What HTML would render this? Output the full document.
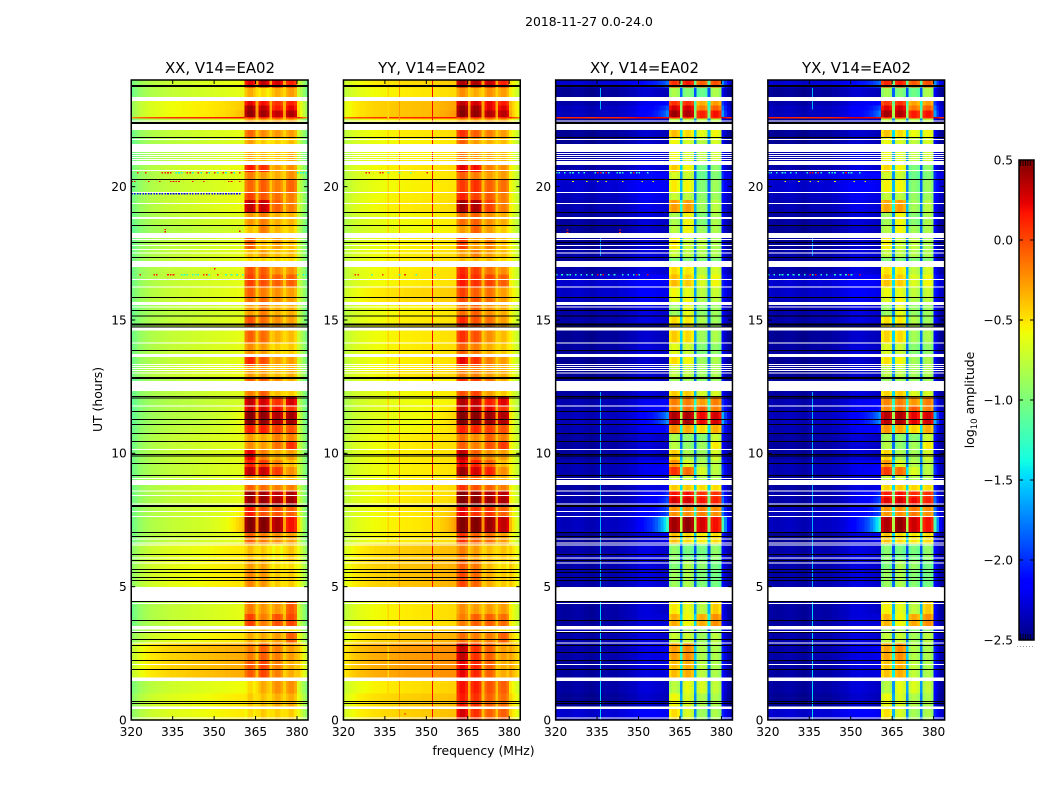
<!DOCTYPE html>
<html>
<head>
<meta charset="utf-8">
<title>2018-11-27 0.0-24.0</title>
<style>
html,body{margin:0;padding:0;background:#fff;}
svg{display:block;font-family:"DejaVu Sans","Liberation Sans",sans-serif;}
</style>
</head>
<body>
<svg id="chart" xmlns="http://www.w3.org/2000/svg" width="1050" height="800" viewBox="0 0 1050 800">
  <rect x="0" y="0" width="1050" height="800" fill="#fff"/>
  <text x="589" y="26" font-size="12.4" text-anchor="middle" fill="#000">2018-11-27 0.0-24.0</text>
  <text x="483.5" y="755" font-size="12.4" text-anchor="middle" fill="#000">frequency (MHz)</text>
  <text transform="translate(102,399.5) rotate(-90)" font-size="12.4" text-anchor="middle" fill="#000">UT (hours)</text>
  <text transform="translate(974,400) rotate(-90)" font-size="12.4" text-anchor="middle" fill="#000">log<tspan font-size="8.6" dy="3">10</tspan><tspan dy="-3"> amplitude</tspan></text>
  <text x="220" y="73" font-size="14.9" text-anchor="middle" fill="#000">XX, V14=EA02</text>
  <text x="432" y="73" font-size="14.9" text-anchor="middle" fill="#000">YY, V14=EA02</text>
  <text x="644.5" y="73" font-size="14.9" text-anchor="middle" fill="#000">XY, V14=EA02</text>
  <text x="856.5" y="73" font-size="14.9" text-anchor="middle" fill="#000">YX, V14=EA02</text>
  <g id="panels"></g>
  <g id="colorbar"></g>
</svg>
<script>
// ---- axis tick data ----
const freqTicks = [320, 335, 350, 365, 380];
const utTicks = [0, 5, 10, 15, 20];
const colorbarTicks = [0.5, 0.0, -0.5, -1.0, -1.5, -2.0, -2.5];
const colorbarTickLabels = ['0.5', '0.0', '\u22120.5', '\u22121.0', '\u22121.5', '\u22122.0', '\u22122.5'];
const colorbarMinorTicks = [0.1, 0.26, 0.42, 0.58, 0.74];

// ---- channel classes: -1 sky/base, 0..3 bright bands, 9 band gap ----
const channelClass = [
 -1,-1,-1,-1,-1,-1,-1,-1,-1,-1,-1,-1,-1,-1,-1,-1,-1,-1,-1,-1,
 -1,-1,-1,-1,-1,-1,-1,-1,-1,-1,-1,-1,-1,-1,-1,-1,-1,-1,-1,-1,
 -1,0,0,0,0,9,1,1,1,1,9,2,2,2,2,9,3,3,3,3,-1,-1,-1,-1];

// ---- per-channel spectral shapes (log10 amplitude offsets) ----
const xxBaseShape = [-.32,-.27,-.22,-.18,-.15,-.13,-.11,-.09,-.08,-.07,-.06,-.05,-.04,-.03,-.02,-.02,-.01,-.01,0,0,.01,.01,.02,.02,.03,.03,.04,.04,.05,.05,.06,.06,.07,.07,.08,.08,.09,.09,.1,.1,.1,
 0,0,0,0,0,0,0,0,0,0,0,0,0,0,0,0,0,0,0, .02,-.08,-.2,-.32];
const yyBaseShape = [-.22,-.18,-.15,-.12,-.1,-.08,-.07,-.06,-.05,-.04,-.03,-.02,-.02,-.01,-.01,0,0,.01,.01,.02,.02,.02,.03,.03,.03,.04,.04,.04,.05,.05,.05,.05,.06,.06,.06,.07,.07,.07,.08,.08,.08,
 0,0,0,0,0,0,0,0,0,0,0,0,0,0,0,0,0,0,0, .02,-.05,-.12,-.2];
const xyBaseShape = [.02,.02,0,0,0,0,.02,.03,.03,.02,0,0,-.02,-.02,0,.02,.02,.02,.03,.03,.02,.02,.02,.05,.05,.06,.08,.09,.1,.12,.15,.15,.16,.16,.15,.14,.13,.12,.12,.1,.1,
 0,0,0,0,0,0,0,0,0,0,0,0,0,0,0,0,0,0,0, .25,.12,.02,0];
const yxBaseShape = [.02,.02,0,0,0,.01,.02,.03,.03,.02,0,0,-.02,-.02,0,.02,.02,.02,.03,.03,.02,.02,.02,.05,.05,.06,.08,.09,.1,.12,.15,.15,.16,.16,.15,.14,.13,.12,.12,.1,.1,
 0,0,0,0,0,0,0,0,0,0,0,0,0,0,0,0,0,0,0, .25,.12,.02,0];
const bandShape = [0,0,0,0,0,0,0,0,0,0,0,0,0,0,0,0,0,0,0,0,0,0,0,0,0,0,0,0,0,0,0,0,0,0,0,0,0,0,0,0,0,
 -.06,.04,.04,-.04,0,-.03,.05,.03,-.05,0,-.04,.04,.03,-.05,0,-.03,.04,.04,-.06,0,0,0,0];
const glowShape = [0,0,0,0,0,0,0,0,0,0,0,0,0,0,0,0,0,0,0,0,0,0,0,0,0,0,0,0,
 .02,.04,.06,.08,.12,.16,.2,.28,.36,.48,.6,.78,1,
 0,0,0,0,0,0,0,0,0,0,0,0,0,0,0,0,0,0,0, .9,.5,.2,.05];

// ---- time rows: start hour of each row, descending; a row ends where the next begins ----
const rowTops = [24.0,23.72,23.36,23.05,22.85,22.61,22.56,22.13,21.86,21.3,20.81,20.55,20.29,19.76,19.5,19.05,18.56,18.08,17.66,17.36,
 16.99,16.7,16.25,15.86,15.56,15.16,14.76,14.6,14.16,13.62,13.3,12.87,12.34,12.15,11.8,11.59,11.1,10.76,10.46,10.16,
 9.75,9.48,9.19,8.81,8.6,8.35,8.06,7.65,7.05,6.6,6.0,5.62,4.46,3.98,3.5,3.3,2.9,2.25,1.59,1.0,0.5];

// ---- row levels per panel: [base, edge-glow, band1, band2, band3, band4] ----
const xxRows = [
[-.7,0,.2,.3,.25,.1],[-.72,0,-.35,-.5,-.35,-.3],[-.56,.05,.2,.15,.05,.1],[-.56,.05,.38,.3,.12,.2],[-.56,.1,.42,.38,.3,.35],
[.1,0,.1,.1,.1,.1],[-.72,0,-.3,-.3,-.3,-.3],[-.72,0,-.12,-.25,-.28,-.3],[-.75,0,-.3,-.45,-.45,-.4],[-.75,0,-.35,-.4,-.42,-.36],
[-.7,0,.12,.05,-.3,-.25],[-.72,0,-.2,-.3,-.35,-.25],[-.72,0,-.12,-.1,-.2,-.12],[-.7,0,0,-.08,-.15,-.2],[-.7,0,.3,.28,-.1,-.2],
[-.74,0,-.28,-.2,-.35,-.38],[-.78,0,-.42,-.2,-.38,-.45],[-.74,0,-.1,-.4,-.3,-.4],[-.72,0,-.4,-.3,-.4,-.4],[-.72,0,-.5,-.5,-.5,-.5],
[-.72,0,-.05,-.1,-.25,-.25],[-.72,0,0,-.05,-.1,-.1],[-.7,0,-.1,-.2,-.25,-.3],[-.7,0,-.15,-.15,-.25,-.3],[-.75,0,-.3,-.2,-.35,-.35],
[-.73,0,-.05,-.15,-.25,-.3],[-.75,0,-.25,-.25,-.35,-.4],[-.72,0,-.1,-.15,-.35,-.4],[-.72,0,-.25,-.3,-.45,-.45],[-.72,0,.08,-.05,-.3,-.3],
[-.7,0,-.3,-.3,-.4,-.35],[-.78,0,-.1,-.1,-.25,-.35],[-.75,0,-.2,-.1,-.4,-.45],[-.78,0,.3,.25,.05,.25],[-.78,.05,.25,.25,.15,.05],
[-.78,.1,.45,.42,.35,.38],[-.75,.05,.1,.1,0,-.05],[-.72,0,-.3,-.35,-.2,-.2],[-.72,0,-.25,-.3,-.15,.05],[-.72,0,.2,-.2,-.35,-.3],
[-.73,0,.1,0,-.2,-.4],[-.73,0,.3,.28,.02,-.25],[-.73,0,-.25,-.2,-.35,-.35],[-.72,0,-.1,-.15,-.2,-.2],[-.72,0,.42,.38,.3,.35],
[-.72,0,.4,.4,.35,.38],[-.72,.1,.12,-.05,-.05,-.1],[-.72,.25,.47,.47,.35,.15],[-.72,0,-.1,-.2,-.25,-.3],[-.62,0,-.4,-.45,-.55,-.42],
[-.6,0,-.3,-.32,-.5,-.5],[-.6,0,-.22,-.28,-.45,-.45],[-.72,0,-.2,-.28,-.28,-.08],[-.72,0,0,-.2,-.05,-.02],[-.68,0,-.45,-.4,-.5,-.5],
[-.6,0,-.35,-.35,-.3,-.1],[-.42,0,-.2,-.1,-.2,-.3],[-.42,0,-.08,-.02,-.2,-.35],[-.68,0,-.5,-.35,-.25,-.25],[-.62,0,-.45,-.42,-.35,-.35],
[-.62,0,-.5,-.45,-.45,-.45]];
const yyRows = [
[-.5,0,.35,.35,.3,.1],[-.55,0,-.25,-.35,-.25,-.3],[-.42,.05,.3,.25,.2,.12],[-.42,.05,.42,.38,.22,.22],[-.42,.1,.45,.42,.35,.32],
[.1,0,.1,.1,.1,.1],[-.55,0,-.3,-.3,-.3,-.3],[-.55,0,.05,-.1,-.2,-.3],[-.58,0,-.1,-.3,-.35,-.4],[-.58,0,-.2,-.3,-.35,-.4],
[-.55,0,.22,.15,-.2,-.25],[-.58,0,-.1,-.2,-.3,-.3],[-.58,0,.02,.05,-.1,-.15],[-.56,0,.1,0,-.08,-.2],[-.55,0,.38,.35,0,-.2],
[-.6,0,-.15,-.1,-.25,-.35],[-.62,0,-.3,-.1,-.3,-.45],[-.58,0,0,-.3,-.2,-.4],[-.56,0,-.3,-.2,-.3,-.4],[-.56,0,-.4,-.4,-.4,-.5],
[-.56,0,.08,0,-.15,-.25],[-.56,0,.12,.05,0,-.1],[-.5,0,0,-.1,-.15,-.3],[-.5,0,-.03,-.05,-.15,-.3],[-.58,0,-.15,-.1,-.25,-.35],
[-.56,0,.08,-.05,-.15,-.3],[-.58,0,-.1,-.1,-.2,-.3],[-.56,0,.05,-.05,-.25,-.4],[-.56,0,-.1,-.2,-.35,-.45],[-.56,0,.2,.05,-.2,-.3],
[-.54,0,-.2,-.2,-.3,-.35],[-.6,0,.05,0,-.15,-.35],[-.6,0,-.05,0,-.3,-.45],[-.62,0,.35,.3,.12,.22],[-.62,.05,.3,.3,.2,.05],
[-.62,.1,.47,.45,.4,.35],[-.6,.05,.1,.08,.02,-.05],[-.56,0,-.15,-.25,-.1,-.2],[-.56,0,-.1,-.2,-.05,.02],[-.56,0,.3,-.1,-.25,-.3],
[-.57,0,.2,.1,-.1,-.4],[-.57,0,.4,.25,.1,-.25],[-.57,0,-.1,-.1,-.25,-.35],[-.55,0,.05,-.05,-.1,-.2],[-.55,0,.47,.42,.35,.33],
[-.55,0,.47,.45,.4,.36],[-.55,.1,.2,.05,.05,-.1],[-.55,.2,.48,.48,.4,.3],[-.55,0,.05,-.1,-.15,-.3],[-.45,0,-.2,-.3,-.4,-.42],
[-.42,0,-.1,-.18,-.4,-.5],[-.42,0,-.02,-.12,-.35,-.45],[-.55,0,-.25,-.3,-.3,-.3],[-.55,0,-.2,-.1,-.1,-.15],[-.52,0,-.3,-.3,-.4,-.5],
[-.42,0,-.15,-.2,-.2,-.1],[-.3,0,.3,.05,-.1,-.3],[-.3,0,.2,.08,-.1,-.35],[-.52,0,.15,.1,-.05,-.1],[-.46,0,.12,.05,-.1,-.15],
[-.46,0,.25,.05,-.1,-.1]];
const xyRows = [
[-2.3,.4,.05,.12,-.1,-.05],[-2.45,0,-.85,-1,-1.1,-.85],[-2.4,.2,.05,.05,-.35,-.3],[-2.35,.35,.25,.25,-.2,-.1],[-2.35,.5,.4,.35,.1,.15],
[.1,0,.1,.1,.1,.1],[-2.45,0,-.8,-.8,-.8,-.8],[-2.45,0,-.4,-.5,-.65,-.6],[-2.45,0,-.6,-.7,-.8,-.7],[-2.4,0,-.6,-.7,-.8,-.72],
[-2.4,0,-.45,-.6,-1.05,-.95],[-2.25,0,-.7,-.75,-1.1,-1],[-2.3,0,-.55,-.6,-1,-.9],[-2.35,0,-.75,-.8,-.95,-.9],[-2.38,0,-.3,-.3,-.9,-.8],
[-2.42,0,-.85,-.6,-1,-.85],[-2.45,0,-.8,-.6,-.9,-.85],[-2.45,0,-.55,-.75,-.8,-.85],[-2.4,0,-.75,-.8,-.85,-.85],[-2.45,0,-1,-1,-1,-1],
[-2.4,0,-.5,-.55,-.8,-.7],[-2.3,0,-.4,-.45,-.7,-.6],[-2.32,0,-.6,-.65,-.8,-.75],[-2.35,0,-.65,-.6,-.85,-.8],[-2.4,0,-.9,-.65,-.95,-.9],
[-2.4,0,-.5,-.55,-.85,-.9],[-2.4,0,-.8,-.8,-.9,-.9],[-2.45,0,-.45,-.5,-.9,-.85],[-2.42,0,-.65,-.75,-1,-.95],[-2.45,0,-.5,-.6,-.9,-.85],
[-2.45,0,-.8,-.8,-.9,-.85],[-2.45,0,-.9,-.9,-.95,-.9],[-2.42,0,-.45,-.45,-.7,-.7],[-2.38,.15,-.2,-.2,-.3,-.2],[-2.38,.2,-.2,-.15,-.1,-.2],
[-2.35,.55,.35,.35,.18,.25],[-2.38,.2,-.25,-.35,-.5,-.35],[-2.42,0,-.85,-.95,-1,-.75],[-2.42,0,-.8,-.95,-.9,-.55],[-2.42,0,-.45,-.85,-.9,-.7],
[-2.38,.1,-.25,-.7,-.85,-.8],[-2.38,.15,.05,-.15,-.7,-.8],[-2.45,0,-.75,-.75,-.85,-.85],[-2.42,.1,-.45,-.45,-.5,-.5],[-2.4,.3,.15,.15,.05,.05],
[-2.4,.4,.25,.25,.15,.1],[-2.35,.35,-.25,-.25,-.2,-.25],[-2.35,1,.38,.42,.25,.15],[-2.45,.15,-.4,-.5,-.55,-.5],[-2.4,0,-.95,-1.05,-1.05,-.95],
[-2.4,0,-1,-.85,-.95,-1.05],[-2.4,0,-.9,-.85,-1,-1.05],[-2.42,0,-.55,-.65,-.8,-.45],[-2.42,.05,-.35,-.6,-.35,-.25],[-2.35,0,-.9,-.9,-1,-.95],
[-2.4,0,-.75,-.75,-.9,-.8],[-2.4,.1,-.3,-.25,-.85,-.85],[-2.42,.08,-.4,-.35,-.8,-.85],[-2.42,0,-.8,-.65,-.7,-.78],[-2.45,0,-.6,-.7,-.85,-.85],
[-2.3,0,-.5,-.7,-.9,-.85]];
const yxRows = [
[-2.3,.4,.08,.1,-.08,-.05],[-2.45,0,-.88,-1,-1.08,-.85],[-2.4,.2,.02,.05,-.32,-.3],[-2.35,.35,.22,.25,-.18,-.1],[-2.35,.5,.38,.35,.12,.15],
[.1,0,.1,.1,.1,.1],[-2.45,0,-.8,-.8,-.8,-.8],[-2.45,0,-.42,-.5,-.62,-.6],[-2.45,0,-.62,-.7,-.78,-.7],[-2.4,0,-.62,-.7,-.78,-.72],
[-2.4,0,-.48,-.6,-1.02,-.95],[-2.25,0,-.72,-.75,-1.08,-1],[-2.3,0,-.58,-.6,-.98,-.9],[-2.35,0,-.78,-.8,-.93,-.9],[-2.38,0,-.33,-.3,-.88,-.8],
[-2.42,0,-.88,-.6,-.98,-.85],[-2.45,0,-.82,-.6,-.88,-.85],[-2.45,0,-.58,-.75,-.78,-.85],[-2.4,0,-.78,-.8,-.83,-.85],[-2.45,0,-1,-1,-1,-1],
[-2.4,0,-.52,-.55,-.78,-.7],[-2.3,0,-.42,-.45,-.68,-.6],[-2.32,0,-.62,-.65,-.78,-.75],[-2.35,0,-.68,-.6,-.83,-.8],[-2.4,0,-.92,-.65,-.93,-.9],
[-2.4,0,-.52,-.55,-.83,-.9],[-2.4,0,-.82,-.8,-.88,-.9],[-2.45,0,-.48,-.5,-.88,-.85],[-2.42,0,-.68,-.75,-.98,-.95],[-2.45,0,-.52,-.6,-.88,-.85],
[-2.45,0,-.82,-.8,-.88,-.85],[-2.45,0,-.92,-.9,-.93,-.9],[-2.42,0,-.48,-.45,-.68,-.7],[-2.38,.15,-.22,-.2,-.28,-.2],[-2.38,.2,-.22,-.15,-.08,-.2],
[-2.35,.55,.32,.35,.2,.25],[-2.38,.2,-.28,-.35,-.48,-.35],[-2.42,0,-.88,-.95,-.98,-.75],[-2.42,0,-.82,-.95,-.88,-.55],[-2.42,0,-.48,-.85,-.88,-.7],
[-2.38,.1,-.28,-.7,-.83,-.8],[-2.38,.15,.02,-.15,-.68,-.8],[-2.45,0,-.78,-.75,-.83,-.85],[-2.42,.1,-.48,-.45,-.48,-.5],[-2.4,.3,.12,.15,.07,.05],
[-2.4,.4,.22,.25,.17,.1],[-2.35,.35,-.28,-.25,-.18,-.25],[-2.35,1,.35,.42,.27,.15],[-2.45,.15,-.42,-.5,-.53,-.5],[-2.4,0,-.98,-1.05,-1.03,-.95],
[-2.4,0,-1.02,-.85,-.93,-1.05],[-2.4,0,-.92,-.85,-.98,-1.05],[-2.42,0,-.58,-.65,-.78,-.45],[-2.42,.05,-.38,-.6,-.33,-.25],[-2.35,0,-.92,-.9,-.98,-.95],
[-2.4,0,-.78,-.75,-.88,-.8],[-2.4,.1,-.32,-.25,-.83,-.85],[-2.42,.08,-.42,-.35,-.78,-.85],[-2.42,0,-.82,-.65,-.68,-.78],[-2.45,0,-.62,-.7,-.83,-.85],
[-2.3,0,-.52,-.7,-.88,-.85]];

// ---- narrow-band RFI lines: [MHz, value, start hour, end hour] ----
const xxNarrow = [];
const yyNarrow = [[352.2,.2,0,24],[340.2,-.25,0,24],[336.2,-.45,0,24]];
const xyNarrow = [[336.2,-1.5,0,5],[336.2,-1.6,5,12.3],[336.2,-1.7,17.4,18.1],[336.2,-1.6,22.9,23.7]];
const yxNarrow = [[336.2,-1.5,0,5],[336.2,-1.6,5,12.3],[336.2,-1.7,17.4,18.1],[336.2,-1.6,22.9,23.7]];

// ---- isolated interference spikes: [hour, value, channels] ----
const xxSpikes = [
[20.55,.15,[2,5,11,12,13,14,20,21,24,27,30,33,36,39]],[20.55,-1.4,[16,17,18,22,25,28,31,34,37,60,61,62,63]],
[20.22,.2,[0,1,6,10,14,15,16,17,22,26,35,36,39]],
[19.76,-2.2,[0,1,2,3,4,5,6,7,8,9,10,11,12,13,14,15,16,17,18,19,20,21,22,23,24,25,26,27,28,29,30,31,32,33,34,35,36,37,38,39]],
[18.42,.2,[12]],[18.33,.2,[12]],[18.36,.2,[39]],
[16.73,.15,[3,8,9,13,14,15,26,27,31]],[16.73,-1.3,[18,19,20,22,23,24,28,34,36,38,40,60,62,63]],
[17.05,.2,[30]],[16.95,.2,[30]]];
const yySpikes = [
[20.55,.15,[8,9,13,14,30]],[20.55,-1.2,[16,20,24]],
[16.73,.1,[4,5,14,22]],[16.73,-1.3,[10,20,26,33]],
[0.25,.1,[22]]];
const xySpikes = [
[20.55,-1.3,[0,1,3,5,6,8,10,14,17,19,22,23,24,27,29,30,33]],[20.55,.2,[15,16,18,28]],
[20.22,-.6,[6,11,15,18,24,31,35]],
[18.4,.1,[4,23]],[18.3,.1,[4,23]],
[16.73,-1.3,[0,2,4,5,7,9,11,13,16,19,21,24,26,28,30]],[16.73,.2,[15,17,29,33]]];
const yxSpikes = [
[20.55,-1.3,[0,1,3,5,6,8,10,14,17,19,22,23,24,27,29,30,33]],[20.55,.2,[15,16,18,28]],
[20.22,-.6,[6,11,15,18,24,31,35]],
[16.73,-1.3,[0,2,4,5,7,9,11,13,16,19,21,24,26,28,30]],[16.73,.2,[15,17,29,33]]];

// ---- flagged data (white = no data, black = zero) ----
const whiteSpans = [[23.36,23.21],[22.39,22.13],[21.6,21.3],[20.93,20.81],[18.86,18.79],[18.26,18.08],[17.21,16.99],[15.68,15.56],[14.71,14.6],[13.73,13.62],[12.71,12.34],[9.0,8.81],[4.98,4.46],[3.53,3.4],[1.59,1.46],[0.51,0.42]];
const whiteLines = [22.48,21.78,21.26,21.19,21.11,21.04,20.96,20.63,19.8,19.39,18.03,17.81,17.66,17.54,16.53,16.25,15.5,14.16,13.35,13.28,13.2,13.13,13.04,11.8,10.16,9.08,8.61,8.44,8.11,7.84,7.65,6.81,6.66,6.59,6.1,5.9,4.38,3.34,2.9,2.1,0.09];
const blackThick = [23.81,22.43,14.87,12.87,8.06];
const blackLines = [21.86,20.29,19.05,18.56,17.93,17.36,15.86,15.38,15.16,14.76,13.88,12.15,12.09,11.59,11.29,11.1,10.76,10.46,9.98,9.92,9.64,9.19,7.05,6.9,6.23,6.0,5.66,5.55,5.36,5.25,4.46,3.75,3.3,3.04,2.81,2.55,2.25,1.91,0.72,0.64];

// ---- colormap stops ----
const jetR = [[0,0],[.35,0],[.66,1],[.89,1],[1,.5]];
const jetG = [[0,0],[.125,0],[.375,1],[.64,1],[.91,0],[1,0]];
const jetB = [[0,.5],[.11,1],[.34,1],[.65,0],[1,0]];
const vMin = -2.5, vMax = 0.5;

const SVGNS = 'http://www.w3.org/2000/svg';
const freqMin = 320, freqMax = 384, utMin = 0, utMax = 24;
const plotTop = 80, plotBottom = 720, plotWidth = 176.8;
const yScale = u => plotBottom - (u - utMin) * (plotBottom - plotTop) / (utMax - utMin);
const xScaleFor = left => f => left + (f - freqMin) * plotWidth / (freqMax - freqMin);

function lerpStops(stops, t) {
  for (let i = 1; i < stops.length; i++) {
    if (t <= stops[i][0]) {
      const a = stops[i - 1], b = stops[i];
      return a[1] + (b[1] - a[1]) * (t - a[0]) / (b[0] - a[0]);
    }
  }
  return stops[stops.length - 1][1];
}
function color(v) {
  const t = Math.max(0, Math.min(1, (v - vMin) / (vMax - vMin)));
  const r = Math.round(255 * lerpStops(jetR, t));
  const g = Math.round(255 * lerpStops(jetG, t));
  const b = Math.round(255 * lerpStops(jetB, t));
  return 'rgb(' + r + ',' + g + ',' + b + ')';
}
function rect(parent, x, y, w, h, fill) {
  const el = document.createElementNS(SVGNS, 'rect');
  el.setAttribute('x', x.toFixed(2));
  el.setAttribute('y', y.toFixed(2));
  el.setAttribute('width', w.toFixed(2));
  el.setAttribute('height', h.toFixed(2));
  el.setAttribute('fill', fill);
  parent.appendChild(el);
  return el;
}
function line(parent, x1, y1, x2, y2, w) {
  const el = document.createElementNS(SVGNS, 'line');
  el.setAttribute('x1', x1);
  el.setAttribute('y1', y1);
  el.setAttribute('x2', x2);
  el.setAttribute('y2', y2);
  el.setAttribute('stroke', '#000');
  el.setAttribute('stroke-width', w);
  parent.appendChild(el);
  return el;
}
function label(parent, x, y, str, anchor) {
  const el = document.createElementNS(SVGNS, 'text');
  el.setAttribute('x', x);
  el.setAttribute('y', y);
  el.setAttribute('font-size', '12.2');
  el.setAttribute('text-anchor', anchor);
  el.setAttribute('fill', '#000');
  el.textContent = str;
  parent.appendChild(el);
  return el;
}
function cellValue(row, c, baseShape, gap) {
  const kind = channelClass[c];
  if (kind === -1) return row[0] + baseShape[c] + row[1] * glowShape[c];
  if (kind === 9) {
    const avg = (row[2 + channelClass[c - 1]] + row[2 + channelClass[c + 1]]) / 2;
    return gap.floor + gap.gain * Math.max(0, avg - gap.ref);
  }
  return row[2 + kind] + bandShape[c];
}

const panelDefs = [
  {left: 131.25, key: 'xx', rows: xxRows, baseShape: xxBaseShape, spikes: xxSpikes, narrow: xxNarrow, gap: {floor: -.5, ref: -.5, gain: .28}},
  {left: 343.45, key: 'yy', rows: yyRows, baseShape: yyBaseShape, spikes: yySpikes, narrow: yyNarrow, gap: {floor: -.5, ref: -.5, gain: .28}},
  {left: 555.65, key: 'xy', rows: xyRows, baseShape: xyBaseShape, spikes: xySpikes, narrow: xyNarrow, gap: {floor: -1.9, ref: -1.0, gain: .8}},
  {left: 767.85, key: 'yx', rows: yxRows, baseShape: yxBaseShape, spikes: yxSpikes, narrow: yxNarrow, gap: {floor: -1.9, ref: -1.0, gain: .8}}
];

const panelsRoot = document.getElementById('panels');
panelDefs.forEach(function (p) {
  const x = xScaleFor(p.left);
  const g = document.createElementNS(SVGNS, 'g');
  
  
  g.setAttribute('shape-rendering', 'crispEdges');
  panelsRoot.appendChild(g);

  const chanW = plotWidth / (freqMax - freqMin);
  rowTops.forEach(function (top, ri) {
    const bottom = ri + 1 < rowTops.length ? rowTops[ri + 1] : utMin;
    channelClass.forEach(function (_, c) {
      const v = cellValue(p.rows[ri], c, p.baseShape, p.gap);
      const el = rect(g, x(freqMin + c), yScale(top), chanW, yScale(bottom) - yScale(top), color(v));
      
      
    });
  });

  p.narrow.forEach(function (n) {
    const el = rect(g, x(n[0]) - 0.5, yScale(n[3]), 1.1, yScale(n[2]) - yScale(n[3]), color(n[1]));
    
    
  });

  p.spikes.forEach(function (s) {
    s[2].forEach(function (c) {
      const el = rect(g, x(freqMin + c), yScale(s[0]), 1.6, 1.4, color(s[1]));
      
      
    });
  });

  whiteSpans.forEach(function (s) {
    const el = rect(g, p.left, yScale(s[0]), plotWidth, yScale(s[1]) - yScale(s[0]), '#fff');
    
    
  });
  whiteLines.forEach(function (u) {
    const el = rect(g, p.left, yScale(u), plotWidth, 1, '#fff');
    
    
  });
  blackLines.forEach(function (u) {
    const el = rect(g, p.left, yScale(u), plotWidth, 1, '#000');
    
    
  });
  blackThick.forEach(function (u) {
    const el = rect(g, p.left, yScale(u), plotWidth, 2, '#000');
    
    
  });

  freqTicks.forEach(function (f) {
    const tb = line(panelsRoot, x(f), plotBottom, x(f), plotBottom - 4, 1);
    
    
    const tt = line(panelsRoot, x(f), plotTop, x(f), plotTop + 4, 1);
    
    
    const tl = label(panelsRoot, x(f), 736, String(f), 'middle');
    
    
  });
  utTicks.forEach(function (u) {
    const tb = line(panelsRoot, p.left, yScale(u), p.left + 4, yScale(u), 1);
    
    
    const tt = line(panelsRoot, p.left + plotWidth, yScale(u), p.left + plotWidth - 4, yScale(u), 1);
    
    
    const tl = label(panelsRoot, p.left - 4.5, yScale(u) + 4.4, String(u), 'end');
    
    
  });

  const frame = document.createElementNS(SVGNS, 'rect');
  
  
  frame.setAttribute('x', p.left);
  frame.setAttribute('y', plotTop);
  frame.setAttribute('width', plotWidth);
  frame.setAttribute('height', plotBottom - plotTop);
  frame.setAttribute('fill', 'none');
  frame.setAttribute('stroke', '#000');
  frame.setAttribute('stroke-width', '1.5');
  panelsRoot.appendChild(frame);
});

// ---- colorbar ----
const cbRoot = document.getElementById('colorbar');
const cbLeft = 1019, cbRight = 1034, cbTop = 160, cbBottom = 640;
const cbY = v => cbBottom - (v - vMin) * (cbBottom - cbTop) / (vMax - vMin);
const cbLevels = 256;
const cbStrip = document.createElementNS(SVGNS, 'g');


cbStrip.setAttribute('shape-rendering', 'crispEdges');
cbRoot.appendChild(cbStrip);
for (let i = 0; i < cbLevels; i++) {
  const lo = vMin + (vMax - vMin) * i / cbLevels;
  const hi = vMin + (vMax - vMin) * (i + 1) / cbLevels;
  const el = rect(cbStrip, cbLeft, cbY(hi), cbRight - cbLeft, cbY(lo) - cbY(hi) + 0.5, color((lo + hi) / 2));
  
  
}
colorbarTicks.forEach(function (v, i) {
  const y = cbY(v);
  const tl = line(cbRoot, cbLeft, y, cbLeft + 4, y, 1);
  
  
  const tr = line(cbRoot, cbRight, y, cbRight - 4, y, 1);
  
  
  const lb = label(cbRoot, cbLeft - 6, y + 4.4, colorbarTickLabels[i], 'end');
  
  
});
colorbarMinorTicks.forEach(function (t) {
  const x = cbLeft + (cbRight - cbLeft) * (t + 0.01);
  const a = line(cbRoot, x, cbTop, x, cbTop + 6, 0.8);
  
  
  const b = line(cbRoot, x, cbBottom, x, cbBottom - 6, 0.8);
  
  
});
const cbFrame = document.createElementNS(SVGNS, 'rect');


cbFrame.setAttribute('x', cbLeft);
cbFrame.setAttribute('y', cbTop);
cbFrame.setAttribute('width', cbRight - cbLeft);
cbFrame.setAttribute('height', cbBottom - cbTop);
cbFrame.setAttribute('fill', 'none');
cbFrame.setAttribute('stroke', '#000');
cbFrame.setAttribute('stroke-width', '1.5');
cbRoot.appendChild(cbFrame);
const cbDots = document.createElementNS(SVGNS, 'line');


cbDots.setAttribute('x1', '1017');
cbDots.setAttribute('y1', '646.5');
cbDots.setAttribute('x2', '1035');
cbDots.setAttribute('y2', '646.5');
cbDots.setAttribute('stroke', '#999');
cbDots.setAttribute('stroke-width', '1');
cbDots.setAttribute('stroke-dasharray', '1 2');
cbRoot.appendChild(cbDots);
</script>
</body>
</html>
